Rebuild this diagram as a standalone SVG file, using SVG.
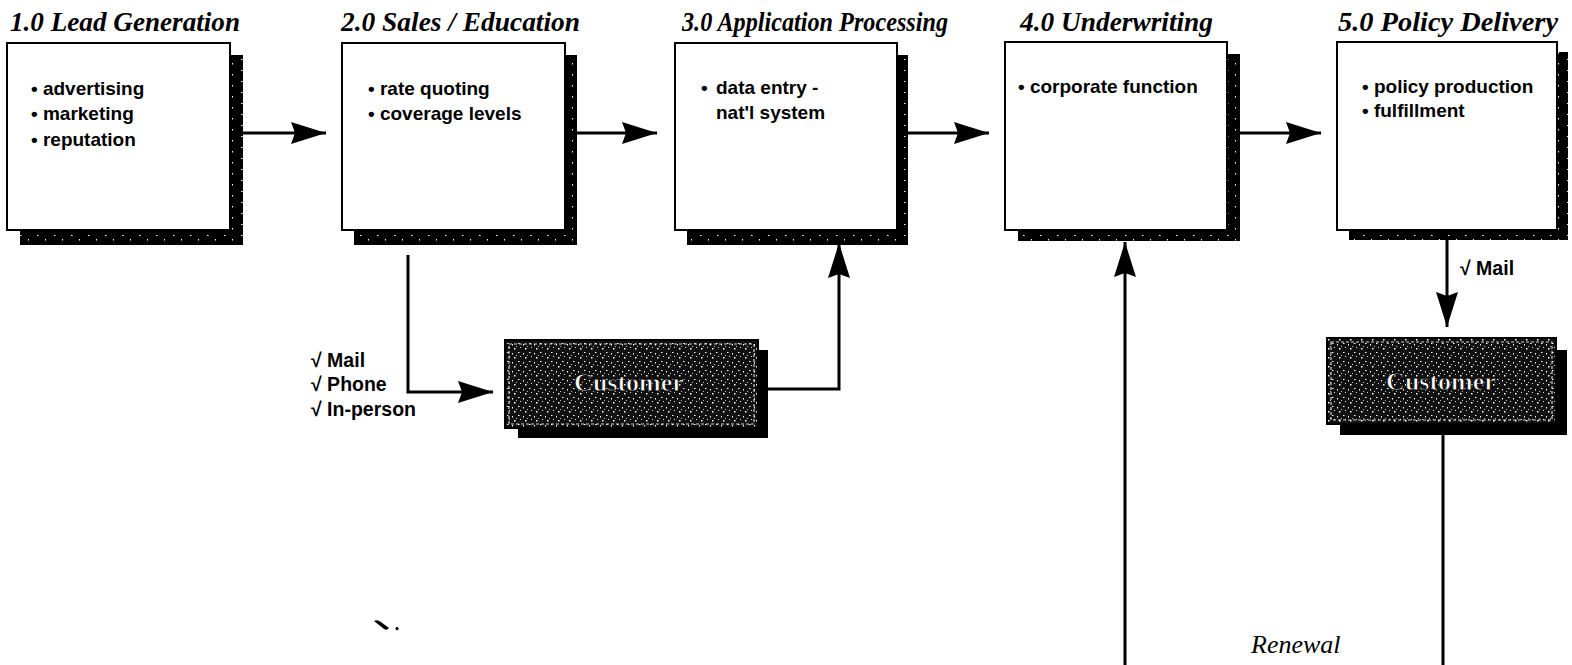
<svg xmlns="http://www.w3.org/2000/svg" width="1572" height="665" viewBox="0 0 1572 665">
<style>
.title{font-family:"Liberation Serif",serif;font-weight:bold;font-style:italic;font-size:27px;fill:#000}
.body{font-family:"Liberation Sans",Arial,sans-serif;font-weight:bold;font-size:19px;fill:#000}
.lbl{font-family:"Liberation Sans",Arial,sans-serif;font-weight:bold;font-size:19.5px;fill:#000}
.box{fill:#fff;stroke:#000;stroke-width:2}
.shadow{fill:url(#sparse)}
.cshadow{fill:#000}
.cust{fill:url(#dense);stroke:#000;stroke-width:2}
.cinner{fill:none;stroke:#fff;stroke-width:1.2;stroke-dasharray:3 2;opacity:0.8}
.ctext{font-family:"Liberation Serif",serif;font-weight:bold;font-size:26px;fill:#fff;stroke:#000;stroke-width:0.8;text-anchor:middle}
.conn{fill:none;stroke:#000;stroke-width:3}
.ren{font-family:"Liberation Serif",serif;font-style:italic;font-size:26px;fill:#000}
</style>
<defs>
<pattern id="sparse" width="17" height="11" patternUnits="userSpaceOnUse">
<rect width="17" height="11" fill="#000"/>
<rect x="3" y="4" width="1.5" height="1" fill="#fff"/>
<rect x="11" y="8" width="1" height="1.5" fill="#fff"/>
</pattern>
<pattern id="dense" width="11" height="9" patternUnits="userSpaceOnUse">
<rect width="11" height="9" fill="#111"/>
<rect x="1" y="1" width="1.5" height="1" fill="#fff"/>
<rect x="6" y="2" width="1" height="1.5" fill="#fff"/>
<rect x="3" y="5" width="1" height="1" fill="#ddd"/>
<rect x="8" y="6" width="1.5" height="1.5" fill="#fff"/>
<rect x="10" y="4" width="1" height="1" fill="#bbb"/>
</pattern>
<marker id="arr" markerUnits="userSpaceOnUse" markerWidth="38" markerHeight="24" refX="35" refY="12" orient="auto" viewBox="0 0 38 24">
<path d="M0,1 L35,12 L0,23 L4,12 z" fill="#000"/>
</marker>
</defs>

<g id="node1">
<text class="title" x="10" y="31" textLength="230" lengthAdjust="spacingAndGlyphs">1.0 Lead Generation</text>
<rect class="shadow" x="20" y="55" width="223" height="190"/>
<rect class="box" x="7" y="43" width="223" height="187"/>
<text class="body" x="31" y="95">• advertising</text>
<text class="body" x="31" y="120">• marketing</text>
<text class="body" x="31" y="146">• reputation</text>
</g>

<g id="node2">
<text class="title" x="341" y="31" textLength="239" lengthAdjust="spacingAndGlyphs">2.0 Sales / Education</text>
<rect class="shadow" x="354" y="55" width="223" height="190"/>
<rect class="box" x="342" y="43" width="223" height="187"/>
<text class="body" x="368" y="95">• rate quoting</text>
<text class="body" x="368" y="120">• coverage levels</text>
</g>

<g id="node3">
<text class="title" x="682" y="31" textLength="266" lengthAdjust="spacingAndGlyphs">3.0 Application Processing</text>
<rect class="shadow" x="687" y="55" width="221" height="190"/>
<rect class="box" x="675" y="43" width="222" height="187"/>
<text class="body" x="701" y="94">•</text>
<text class="body" x="716" y="94">data entry -</text>
<text class="body" x="716" y="119">nat'l system</text>
</g>

<g id="node4">
<text class="title" x="1020" y="31" textLength="193" lengthAdjust="spacingAndGlyphs">4.0 Underwriting</text>
<rect class="shadow" x="1018" y="54" width="222" height="187"/>
<rect class="box" x="1005" y="42" width="222" height="188"/>
<text class="body" x="1018" y="93">• corporate function</text>
</g>

<g id="node5">
<text class="title" x="1338" y="31" textLength="220" lengthAdjust="spacingAndGlyphs">5.0 Policy Delivery</text>
<rect class="shadow" x="1349" y="52" width="219" height="188"/>
<rect class="box" x="1337" y="42" width="220" height="188"/>
<text class="body" x="1362" y="93">• policy production</text>
<text class="body" x="1362" y="117">• fulfillment</text>
</g>

<g id="customer1">
<rect class="cshadow" x="518" y="350" width="250" height="88"/>
<rect class="cust" x="505" y="340" width="253" height="88"/>
<rect class="cinner" x="509" y="344" width="245" height="80"/>
<text class="ctext" x="629" y="391">Customer</text>
</g>

<g id="customer2">
<rect class="cshadow" x="1340" y="350" width="227" height="85"/>
<rect class="cust" x="1327" y="338" width="229" height="86"/>
<rect class="cinner" x="1331" y="342" width="221" height="78"/>
<text class="ctext" x="1441" y="390">Customer</text>
</g>

<g id="connectors">
<path class="conn" d="M243,133 H326" marker-end="url(#arr)"/>
<path class="conn" d="M577,133 H657" marker-end="url(#arr)"/>
<path class="conn" d="M908,133 H989" marker-end="url(#arr)"/>
<path class="conn" d="M1240,133 H1321" marker-end="url(#arr)"/>
<path class="conn" d="M408,255 V392 H493" marker-end="url(#arr)"/>
<path class="conn" d="M768,389 H839 V243" marker-end="url(#arr)"/>
<path class="conn" d="M1447,240 V327" marker-end="url(#arr)"/>
<path class="conn" d="M1125,665 V242" marker-end="url(#arr)"/>
<path class="conn" d="M1443,435 V665"/>
</g>

<g id="labels">
<text class="lbl" x="311" y="367">√ Mail</text>
<text class="lbl" x="311" y="391">√ Phone</text>
<text class="lbl" x="311" y="416">√ In-person</text>
<text class="lbl" x="1460" y="275">√ Mail</text>
<text class="ren" x="1251" y="653">Renewal</text>
</g>

<path id="speck" d="M374,621 Q377,619 381,622 L389,628 Q387,631 384,629 Z M397,627 a1.6,1.6 0 1,0 0.1,0 Z" fill="#000"/>
</svg>
